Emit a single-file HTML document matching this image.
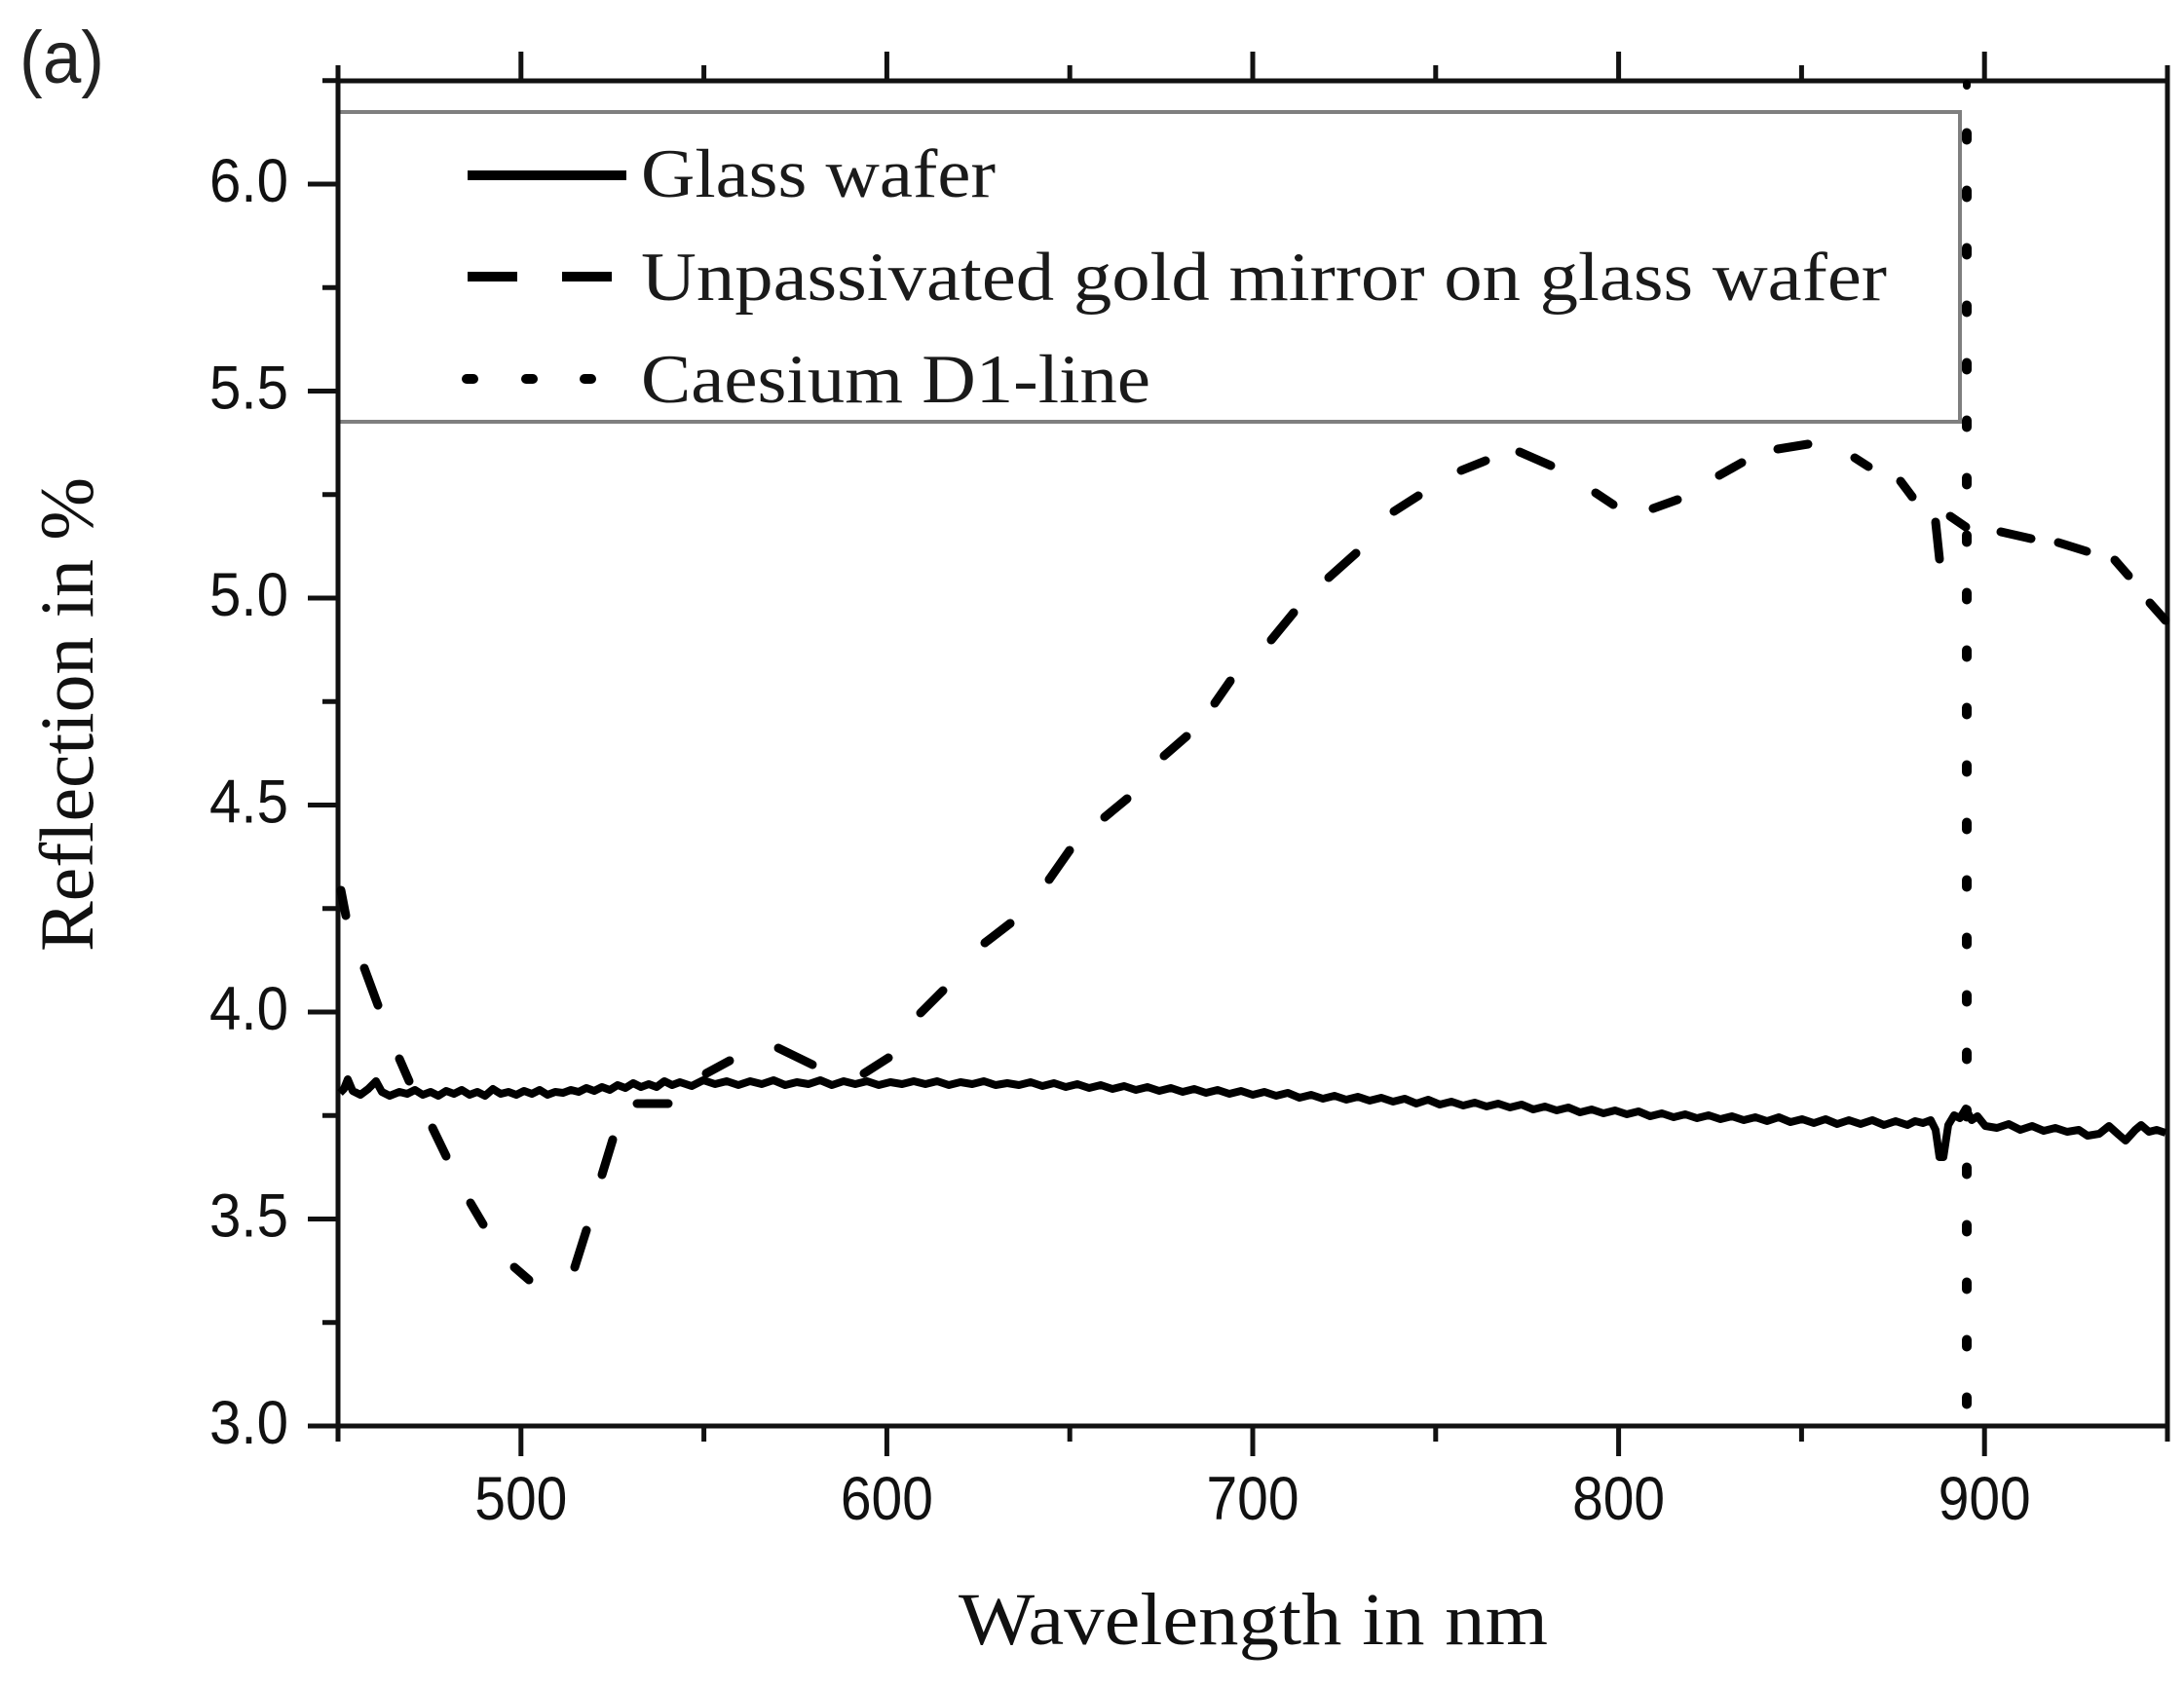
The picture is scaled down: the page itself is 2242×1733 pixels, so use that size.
<!DOCTYPE html>
<html>
<head>
<meta charset="utf-8">
<style>
html,body{margin:0;padding:0;background:#fff;width:2242px;height:1733px;overflow:hidden}
svg{display:block}
</style>
</head>
<body>
<svg width="2242" height="1733" viewBox="0 0 2242 1733" xmlns="http://www.w3.org/2000/svg">
<rect x="0" y="0" width="2242" height="1733" fill="#fff"/>

<!-- panel label -->
<text x="20" y="85" font-family="Liberation Sans, sans-serif" font-size="76" textLength="87" lengthAdjust="spacingAndGlyphs" fill="#222">(a)</text>

<!-- legend box -->
<rect x="347" y="115" width="1665" height="318" fill="#fff" stroke="#7f7f7f" stroke-width="4"/>

<!-- axes frame -->
<rect x="347" y="83" width="1878" height="1381" fill="none" stroke="#111" stroke-width="5"/>

<g stroke="#111" stroke-width="5">
<!-- bottom major -->
<line x1="534.8" y1="1464" x2="534.8" y2="1495"/>
<line x1="910.4" y1="1464" x2="910.4" y2="1495"/>
<line x1="1286" y1="1464" x2="1286" y2="1495"/>
<line x1="1661.6" y1="1464" x2="1661.6" y2="1495"/>
<line x1="2037.2" y1="1464" x2="2037.2" y2="1495"/>
<!-- bottom minor -->
<line x1="347" y1="1464" x2="347" y2="1480"/>
<line x1="722.6" y1="1464" x2="722.6" y2="1480"/>
<line x1="1098.2" y1="1464" x2="1098.2" y2="1480"/>
<line x1="1473.8" y1="1464" x2="1473.8" y2="1480"/>
<line x1="1849.4" y1="1464" x2="1849.4" y2="1480"/>
<line x1="2225" y1="1464" x2="2225" y2="1480"/>
<!-- top major -->
<line x1="534.8" y1="83" x2="534.8" y2="53"/>
<line x1="910.4" y1="83" x2="910.4" y2="53"/>
<line x1="1286" y1="83" x2="1286" y2="53"/>
<line x1="1661.6" y1="83" x2="1661.6" y2="53"/>
<line x1="2037.2" y1="83" x2="2037.2" y2="53"/>
<!-- top minor -->
<line x1="347" y1="83" x2="347" y2="67"/>
<line x1="722.6" y1="83" x2="722.6" y2="67"/>
<line x1="1098.2" y1="83" x2="1098.2" y2="67"/>
<line x1="1473.8" y1="83" x2="1473.8" y2="67"/>
<line x1="1849.4" y1="83" x2="1849.4" y2="67"/>
<line x1="2225" y1="83" x2="2225" y2="67"/>
<!-- left major -->
<line x1="316" y1="1464" x2="347" y2="1464"/>
<line x1="316" y1="1251.5" x2="347" y2="1251.5"/>
<line x1="316" y1="1039" x2="347" y2="1039"/>
<line x1="316" y1="826.5" x2="347" y2="826.5"/>
<line x1="316" y1="614" x2="347" y2="614"/>
<line x1="316" y1="401.5" x2="347" y2="401.5"/>
<line x1="316" y1="189" x2="347" y2="189"/>
<!-- left minor -->
<line x1="331" y1="1357.75" x2="347" y2="1357.75"/>
<line x1="331" y1="1145.25" x2="347" y2="1145.25"/>
<line x1="331" y1="932.75" x2="347" y2="932.75"/>
<line x1="331" y1="720.25" x2="347" y2="720.25"/>
<line x1="331" y1="507.75" x2="347" y2="507.75"/>
<line x1="331" y1="295.25" x2="347" y2="295.25"/>
<line x1="331" y1="82.75" x2="347" y2="82.75"/>
</g>

<!-- y tick labels -->
<g font-family="Liberation Sans, Arial, sans-serif" font-size="63" fill="#111" text-anchor="end">
<text x="296" y="1482" textLength="81" lengthAdjust="spacingAndGlyphs">3.0</text>
<text x="296" y="1269.5" textLength="81" lengthAdjust="spacingAndGlyphs">3.5</text>
<text x="296" y="1057" textLength="81" lengthAdjust="spacingAndGlyphs">4.0</text>
<text x="296" y="844.5" textLength="81" lengthAdjust="spacingAndGlyphs">4.5</text>
<text x="296" y="632" textLength="81" lengthAdjust="spacingAndGlyphs">5.0</text>
<text x="296" y="419.5" textLength="81" lengthAdjust="spacingAndGlyphs">5.5</text>
<text x="296" y="207" textLength="81" lengthAdjust="spacingAndGlyphs">6.0</text>
</g>

<!-- x tick labels -->
<g font-family="Liberation Sans, Arial, sans-serif" font-size="63" fill="#111" text-anchor="middle">
<text x="534.8" y="1560" textLength="95" lengthAdjust="spacingAndGlyphs">500</text>
<text x="910.4" y="1560" textLength="95" lengthAdjust="spacingAndGlyphs">600</text>
<text x="1286" y="1560" textLength="95" lengthAdjust="spacingAndGlyphs">700</text>
<text x="1661.6" y="1560" textLength="95" lengthAdjust="spacingAndGlyphs">800</text>
<text x="2037.2" y="1560" textLength="95" lengthAdjust="spacingAndGlyphs">900</text>
</g>

<!-- axis titles -->
<text x="984" y="1688" font-family="Liberation Serif, serif" font-size="76" fill="#111" textLength="605" lengthAdjust="spacingAndGlyphs">Wavelength in nm</text>
<text transform="translate(95,977) rotate(-90)" x="0" y="0" font-family="Liberation Serif, serif" font-size="78" fill="#111" textLength="487" lengthAdjust="spacingAndGlyphs">Reflection in %</text>

<!-- legend entries -->
<line x1="480" y1="180" x2="643" y2="180" stroke="#000" stroke-width="10"/>
<line x1="480" y1="284" x2="531" y2="284" stroke="#000" stroke-width="10"/>
<line x1="577" y1="284" x2="628" y2="284" stroke="#000" stroke-width="10"/>
<g stroke="#000" stroke-width="10" stroke-linecap="round">
<line x1="479" y1="389" x2="486" y2="389"/>
<line x1="540" y1="389" x2="547" y2="389"/>
<line x1="600" y1="389" x2="607" y2="389"/>
</g>
<g font-family="Liberation Serif, serif" font-size="71" fill="#1a1a1a">
<text x="658" y="202" textLength="364" lengthAdjust="spacingAndGlyphs">Glass wafer</text>
<text x="658" y="308" textLength="1279" lengthAdjust="spacingAndGlyphs">Unpassivated gold mirror on glass wafer</text>
<text x="658" y="413" textLength="523" lengthAdjust="spacingAndGlyphs">Caesium D1-line</text>
</g>

<!-- glass wafer (solid noisy) -->
<polyline fill="none" stroke="#000" stroke-width="8" stroke-linejoin="round" points="
349,1122 353,1118 357,1108 362,1120 370,1124 378,1118 386,1110 392,1121 400,1125 410,1121 418,1123 426,1119 434,1124 442,1121 450,1125 458,1120 466,1123 474,1119 482,1124 490,1121 498,1125 506,1118 514,1123 522,1121 530,1124 538,1120 546,1123 554,1119 562,1124 570,1121 578,1122 586,1119 594,1121 602,1117 610,1120 618,1116 626,1119 634,1114 642,1117 650,1112 658,1116 666,1113 674,1116 682,1110 690,1114 698,1111 710,1115 722,1109 734,1113 746,1110 758,1114 770,1110 782,1113 794,1109 806,1114 818,1111 830,1113 842,1109 854,1114 866,1110 878,1113 890,1110 902,1114 914,1111 926,1113 938,1110 950,1113 962,1110 974,1114 986,1111 998,1113 1010,1110 1022,1114 1034,1112 1046,1114 1058,1111 1070,1115 1082,1112 1094,1116 1106,1113 1118,1117 1130,1114 1142,1118 1154,1115 1166,1119 1178,1116 1190,1120 1202,1117 1214,1121 1226,1118 1238,1122 1250,1119 1262,1123 1274,1120 1286,1124 1298,1121 1310,1125 1322,1122 1334,1127 1346,1124 1358,1128 1370,1125 1382,1129 1394,1126 1406,1130 1418,1127 1430,1131 1442,1128 1454,1133 1466,1129 1478,1134 1490,1131 1502,1135 1514,1132 1526,1136 1538,1133 1550,1137 1562,1134 1574,1139 1586,1136 1598,1140 1610,1137 1622,1142 1634,1139 1646,1143 1658,1140 1670,1144 1682,1141 1694,1146 1706,1143 1718,1147 1730,1144 1742,1148 1754,1145 1766,1149 1778,1146 1790,1150 1802,1147 1814,1151 1826,1147 1838,1152 1850,1149 1862,1153 1874,1149 1886,1154 1898,1150 1910,1154 1922,1150 1934,1155 1946,1151 1958,1155 1966,1151 1974,1153 1982,1150 1987,1160 1991,1188 1995,1188 2000,1155 2006,1145 2012,1148 2018,1138 2024,1150 2030,1146 2038,1156 2050,1158 2062,1154 2074,1160 2086,1156 2098,1161 2110,1158 2122,1162 2134,1160 2143,1166 2155,1164 2165,1156 2175,1165 2182,1171 2192,1160 2198,1155 2206,1162 2214,1160 2223,1163"/>

<!-- gold mirror (dashed) -->
<g stroke="#000" stroke-width="9" stroke-linecap="round">
<line x1="350" y1="914" x2="355" y2="940"/>
<line x1="374" y1="994" x2="388" y2="1032"/>
<line x1="410" y1="1087" x2="420" y2="1110"/>
<line x1="444" y1="1158" x2="458" y2="1187"/>
<line x1="483" y1="1235" x2="496" y2="1257"/>
<line x1="528" y1="1301" x2="543" y2="1314"/>
<line x1="590" y1="1301" x2="602" y2="1263"/>
<line x1="618" y1="1206" x2="629" y2="1170"/>
<line x1="654" y1="1133" x2="686" y2="1133"/>
<line x1="725" y1="1102" x2="749" y2="1089"/>
<line x1="799" y1="1076" x2="834" y2="1093"/>
<line x1="887" y1="1102" x2="912" y2="1086"/>
<line x1="945" y1="1040" x2="968" y2="1017"/>
<line x1="1011" y1="968" x2="1037" y2="948"/>
<line x1="1077" y1="903" x2="1098" y2="873"/>
<line x1="1134" y1="839" x2="1157" y2="820"/>
<line x1="1195" y1="776" x2="1218" y2="756"/>
<line x1="1247" y1="722" x2="1263" y2="699"/>
<line x1="1305" y1="657" x2="1328" y2="629"/>
<line x1="1364" y1="593" x2="1392" y2="568"/>
<line x1="1431" y1="525" x2="1456" y2="509"/>
<line x1="1500" y1="483" x2="1525" y2="473"/>
<line x1="1560" y1="464" x2="1592" y2="478"/>
<line x1="1638" y1="506" x2="1656" y2="518"/>
<line x1="1697" y1="522" x2="1722" y2="513"/>
<line x1="1765" y1="488" x2="1788" y2="475"/>
<line x1="1825" y1="461" x2="1856" y2="456"/>
<line x1="1904" y1="470" x2="1918" y2="479"/>
<line x1="1951" y1="494" x2="1963" y2="510"/>
<line x1="1987" y1="536" x2="1991" y2="574"/>
<line x1="2002" y1="530" x2="2018" y2="541"/>
<line x1="2054" y1="546" x2="2085" y2="553"/>
<line x1="2113" y1="557" x2="2142" y2="566"/>
<line x1="2171" y1="575" x2="2185" y2="591"/>
<line x1="2207" y1="619" x2="2223" y2="637"/>
</g>

<!-- Caesium D1 line (dotted) -->
<line x1="2019" y1="136.5" x2="2019" y2="1462" stroke="#000" stroke-width="10" stroke-linecap="round" stroke-dasharray="7 52"/>
<line x1="2019" y1="86" x2="2019" y2="88" stroke="#000" stroke-width="8" stroke-linecap="round"/>
</svg>
</body>
</html>
